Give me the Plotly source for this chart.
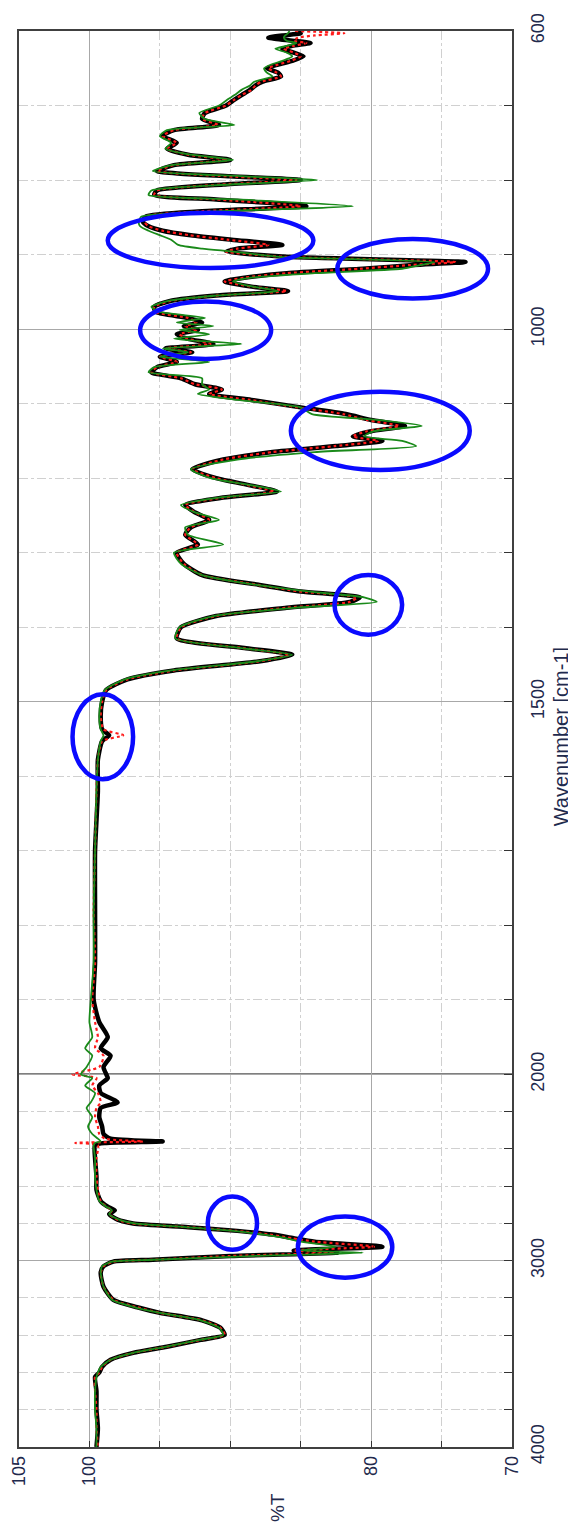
import plotly.graph_objects as go

# ---------------- data ----------------
wavenumber = [600, 603, 606, 609, 613, 616, 620, 624, 629, 634, 640, 645, 650, 656, 661, 668, 673, 679, 686, 692,
              700, 710, 718, 726, 733, 741, 750, 758, 766, 773, 780, 788, 795, 800, 806, 814, 820, 826, 835, 842,
              849, 856, 862, 868, 874, 880, 887, 892, 896, 903, 910, 914, 919, 925, 931, 936, 943, 949, 955, 962,
              970, 977, 985, 991, 996, 1001, 1007, 1013, 1020, 1026, 1031, 1037, 1044, 1051, 1058, 1066, 1074, 1081, 1087, 1095,
              1105, 1114, 1122, 1130, 1137, 1144, 1150, 1157, 1165, 1175, 1188, 1200, 1210, 1218, 1226, 1236, 1246, 1256, 1266, 1276,
              1289, 1300, 1315, 1330, 1343, 1352, 1360, 1366, 1374, 1385, 1400, 1415, 1428, 1437, 1446, 1458, 1470, 1484, 1500, 1520,
              1537, 1545, 1553, 1578, 1620, 1700, 1780, 1850, 1900, 1930, 1950, 1965, 1975, 1990, 2000, 2020, 2060, 2100, 2150, 2180,
              2230, 2280, 2320, 2345, 2360, 2368, 2380, 2450, 2550, 2620, 2680, 2710, 2730, 2750, 2780, 2800, 2820, 2840, 2860, 2880,
              2898, 2925, 2945, 2957, 2975, 2995, 3005, 3030, 3065, 3140, 3210, 3250, 3280, 3320, 3360, 3398, 3425, 3462, 3495, 3532,
              3570, 3600, 3624, 3700, 3800, 3900, 4000]

t_black = [85.2, 85.0, 86.3, 87.3, 85.6, 84.3, 85.6, 86.3, 85.5, 84.8, 85.6, 86.6, 87.4, 86.6, 86.4, 87.7, 88.2, 88.6, 89.2, 89.7,
           90.3, 91.8, 92.0, 90.8, 94.0, 94.8, 93.8, 94.5, 93.0, 90.0, 94.0, 95.2, 90.0, 85.0, 90.5, 95.2, 95.4, 91.0, 84.6, 92.0,
           96.0, 96.2, 95.8, 94.8, 92.8, 89.9, 86.3, 89.5, 90.3, 86.0, 73.3, 77.0, 80.6, 86.0, 89.0, 90.4, 88.5, 85.9, 91.0, 94.2,
           95.4, 95.3, 93.0, 92.0, 93.3, 92.3, 93.8, 93.0, 91.2, 94.6, 92.7, 95.0, 93.8, 95.2, 95.6, 93.5, 92.5, 90.6, 91.5, 88.5,
           85.0, 81.8, 80.0, 77.6, 80.0, 81.3, 79.2, 82.5, 87.0, 90.5, 92.7, 91.0, 88.5, 86.7, 90.5, 93.2, 92.5, 91.5, 92.8, 93.2,
           92.3, 93.8, 93.3, 92.0, 88.0, 85.0, 80.8, 81.5, 86.0, 91.0, 93.5, 93.8, 89.0, 85.6, 88.0, 94.0, 97.3, 98.8, 99.1, 99.2,
           99.1, 98.6, 99.1, 99.4, 99.4, 99.6, 99.6, 99.6, 99.7, 99.3, 98.7, 99.2, 98.5, 99.0, 98.8, 98.7, 99.3, 99.2, 98.0, 99.2,
           99.3, 99.1, 99.0, 98.5, 94.8, 98.8, 99.6, 99.6, 99.5, 99.5, 99.2, 98.7, 98.2, 98.6, 98.0, 96.9, 93.0, 89.5, 87.0, 85.5,
           84.0, 79.2, 85.5, 82.4, 90.0, 95.5, 98.3, 99.0, 99.2, 99.0, 98.3, 96.6, 95.0, 92.0, 90.7, 90.4, 92.1, 94.5, 96.9, 98.5,
           99.1, 99.3, 99.6, 99.5, 99.5, 99.4, 99.5]

t_red = [85.4, 81.9, 84.0, 85.2, 85.5, 84.6, 85.5, 86.2, 85.5, 85.0, 85.7, 86.6, 87.3, 86.7, 86.4, 87.8, 88.2, 88.5, 89.2, 89.7,
         90.3, 91.8, 92.0, 90.9, 94.0, 94.8, 93.8, 94.5, 93.0, 90.2, 94.0, 95.2, 90.2, 85.3, 90.6, 95.2, 95.4, 91.0, 85.0, 92.0,
         96.0, 96.1, 95.8, 94.8, 92.9, 90.2, 87.3, 89.5, 90.3, 86.2, 74.0, 77.2, 80.8, 86.0, 89.0, 90.4, 88.5, 86.0, 91.0, 94.2,
         95.4, 95.3, 93.0, 92.4, 93.2, 92.4, 93.6, 93.0, 91.4, 94.6, 92.8, 95.0, 93.8, 95.2, 95.6, 93.5, 92.5, 90.6, 91.5, 88.6,
         85.2, 82.0, 80.3, 78.0, 80.3, 81.3, 79.5, 82.6, 87.0, 90.5, 92.7, 91.0, 88.6, 86.9, 90.5, 93.2, 92.5, 91.5, 92.8, 93.2,
         92.3, 93.8, 93.3, 92.0, 88.1, 85.1, 81.0, 81.5, 86.0, 91.0, 93.5, 93.8, 89.1, 85.8, 88.0, 94.0, 97.3, 98.8, 99.1, 99.2,
         99.0, 97.6, 99.1, 99.4, 99.5, 99.6, 99.7, 99.6, 99.8, 99.6, 99.4, 99.6, 99.0, 99.3, 101.2, 99.5, 99.8, 99.4, 99.2, 99.5,
         99.6, 99.4, 99.3, 98.9, 96.2, 101.0, 99.4, 99.5, 99.5, 99.4, 99.2, 98.8, 98.4, 98.6, 98.0, 97.0, 93.0, 89.6, 87.2, 85.6,
         84.0, 79.8, 85.5, 82.6, 90.0, 95.5, 98.3, 99.0, 99.2, 99.0, 98.3, 96.6, 95.0, 92.0, 90.7, 90.4, 92.1, 94.5, 96.9, 98.5,
         99.1, 99.3, 99.6, 99.6, 99.5, 99.5, 99.4]

t_green = [85.8, 85.9, 86.1, 86.2, 86.0, 85.3, 86.0, 86.8, 86.0, 85.6, 86.3, 87.1, 87.6, 87.4, 87.0, 88.3, 88.6, 89.2, 89.7, 90.2,
           90.8, 92.2, 91.8, 89.7, 94.5, 95.0, 94.2, 94.6, 92.8, 89.8, 94.2, 95.5, 89.0, 83.8, 90.0, 95.6, 95.8, 89.5, 81.3, 91.0,
           96.3, 96.5, 96.4, 95.8, 95.0, 94.2, 93.7, 92.0, 89.8, 86.5, 75.5, 76.5, 77.8, 84.0, 88.5, 89.8, 88.4, 86.6, 91.0, 94.4,
           95.6, 95.0, 91.8, 93.8, 91.2, 93.6, 91.5, 94.0, 89.2, 94.8, 93.0, 95.0, 91.5, 95.4, 95.8, 92.0, 92.0, 91.5, 92.3, 89.5,
           85.0, 84.2, 79.5, 76.4, 79.8, 80.5, 77.8, 76.8, 84.0, 89.5, 92.8, 91.4, 88.3, 86.4, 90.8, 93.5, 92.5, 90.8, 93.2, 93.0,
           90.5, 94.0, 93.5, 92.0, 88.2, 84.5, 80.5, 79.6, 85.5, 91.2, 93.6, 93.9, 89.2, 85.6, 88.2, 94.2, 97.5, 98.9, 99.2, 99.3,
           99.2, 99.0, 99.2, 99.4, 99.5, 99.6, 99.7, 99.7, 99.9, 100.0, 99.8, 100.3, 99.8, 100.2, 100.6, 99.8, 100.3, 99.6, 99.9, 100.2,
           99.8, 100.1, 99.8, 99.4, 99.2, 99.6, 99.7, 99.6, 99.6, 99.5, 99.3, 98.8, 98.4, 98.6, 97.9, 96.8, 93.2, 89.8, 87.6, 86.0,
           85.0, 82.5, 85.0, 80.6, 88.5, 95.5, 98.4, 99.1, 99.2, 99.0, 98.4, 96.8, 95.0, 92.1, 90.8, 90.5, 92.2, 94.6, 96.9, 98.5,
           99.2, 99.4, 99.5, 99.6, 99.6, 99.5, 99.5]

x_ticks = [105, 100, 80, 70]
x_minor = [95, 90, 85, 75]
y_ticks = [600, 1000, 1500, 2000, 3000, 4000]
y_minor = [700, 800, 900, 1100, 1200, 1300, 1400, 1600, 1700, 1800, 1900,
           2200, 2400, 2600, 2800, 3200, 3400, 3600, 3800]

# highlighted regions (blue ellipses): (%T high, %T low, wavenumber low, wavenumber high)
highlights = [(98.7, 84.1, 844, 918), (82.4, 71.7, 879, 959), (96.4, 87.1, 963, 1040),
              (85.7, 73.0, 1084, 1189), (82.6, 77.8, 1330, 1410), (101.2, 96.9, 1490, 1604),
              (91.6, 88.1, 2656, 2941), (85.2, 78.5, 2763, 3091)]


def axis_pos(w):
    """Piecewise wavenumber scale: region above 2000 cm-1 is compressed 4x."""
    return w if w <= 2000 else 2000 + (w - 2000) / 4.0


ypos = [axis_pos(w) for w in wavenumber]

FONT = "Liberation Sans, Arial, sans-serif"
TXT = "#1f2a4d"

fig = go.Figure()
fig.add_trace(go.Scatter(x=t_black, y=ypos, mode="lines",
                         line=dict(color="black", width=4.5, shape="spline", smoothing=0.6),
                         hoverinfo="skip"))
fig.add_trace(go.Scatter(x=t_red, y=ypos, mode="lines",
                         line=dict(color="#ff1a1a", width=2.2, dash="dot", shape="spline", smoothing=0.6),
                         hoverinfo="skip"))
fig.add_trace(go.Scatter(x=t_green, y=ypos, mode="lines",
                         line=dict(color="#1a8a1a", width=1.8, shape="spline", smoothing=0.6),
                         hoverinfo="skip"))

shapes = []
# scale-break line at 2000 cm-1
shapes.append(dict(type="line", xref="x", yref="y", x0=105, x1=70, y0=2000, y1=2000,
                   line=dict(color="black", width=1.5), layer="below"))
for (ta, tb, wa, wb) in highlights:
    shapes.append(dict(type="circle", xref="x", yref="y", x0=ta, x1=tb,
                       y0=axis_pos(wa), y1=axis_pos(wb),
                       line=dict(color="#0a0aff", width=4.5)))

# the page body has an 8 px default margin, so the figure is sized to fit inside it
fig.update_layout(
    width=568, height=1521,
    margin=dict(l=11, r=64, t=23, b=82, autoexpand=False),
    paper_bgcolor="white", plot_bgcolor="white",
    showlegend=False,
    font=dict(family=FONT, size=18, color=TXT),
    shapes=shapes,
    xaxis=dict(range=[105, 70], tickmode="array", tickvals=x_ticks,
               ticktext=[str(v) for v in x_ticks], tickangle=-90,
               ticks="inside", ticklen=6, tickcolor="#333", tickwidth=1.2,
               showgrid=True, gridcolor="#a8a8a8", gridwidth=1,
               minor=dict(tickvals=x_minor, showgrid=True, gridcolor="#d0d0d0",
                          griddash="dashdot", ticks="inside", ticklen=6, tickcolor="#333"),
               showline=True, mirror=True, linecolor="#404040", linewidth=1.5,
               zeroline=False, tickfont=dict(size=18, color=TXT, family=FONT)),
    yaxis=dict(range=[2500, 600], side="right", tickmode="array",
               tickvals=[axis_pos(v) for v in y_ticks],
               ticktext=[str(v) for v in y_ticks], tickangle=-90,
               ticks="inside", ticklen=8, tickcolor="#333", tickwidth=1.2,
               ticklabelstandoff=9,
               showgrid=True, gridcolor="#a8a8a8", gridwidth=1,
               minor=dict(tickvals=[axis_pos(v) for v in y_minor], showgrid=True,
                          gridcolor="#d0d0d0", griddash="dashdot",
                          ticks="inside", ticklen=8, tickcolor="#333"),
               showline=True, mirror=True, linecolor="#404040", linewidth=1.5,
               zeroline=False, tickfont=dict(size=18, color=TXT, family=FONT)),
    annotations=[
        dict(text="%T", xref="paper", yref="paper", x=0.5233, y=-0.0424,
             showarrow=False, textangle=-90, xanchor="center", yanchor="middle",
             font=dict(size=19, color=TXT, family=FONT)),
        dict(text="Wavenumber [cm-1]", xref="paper", yref="paper", x=1.10, y=0.5014,
             showarrow=False, textangle=-90, xanchor="center", yanchor="middle",
             font=dict(size=20, color=TXT, family=FONT)),
    ],
)

fig.write_html("out.html")
